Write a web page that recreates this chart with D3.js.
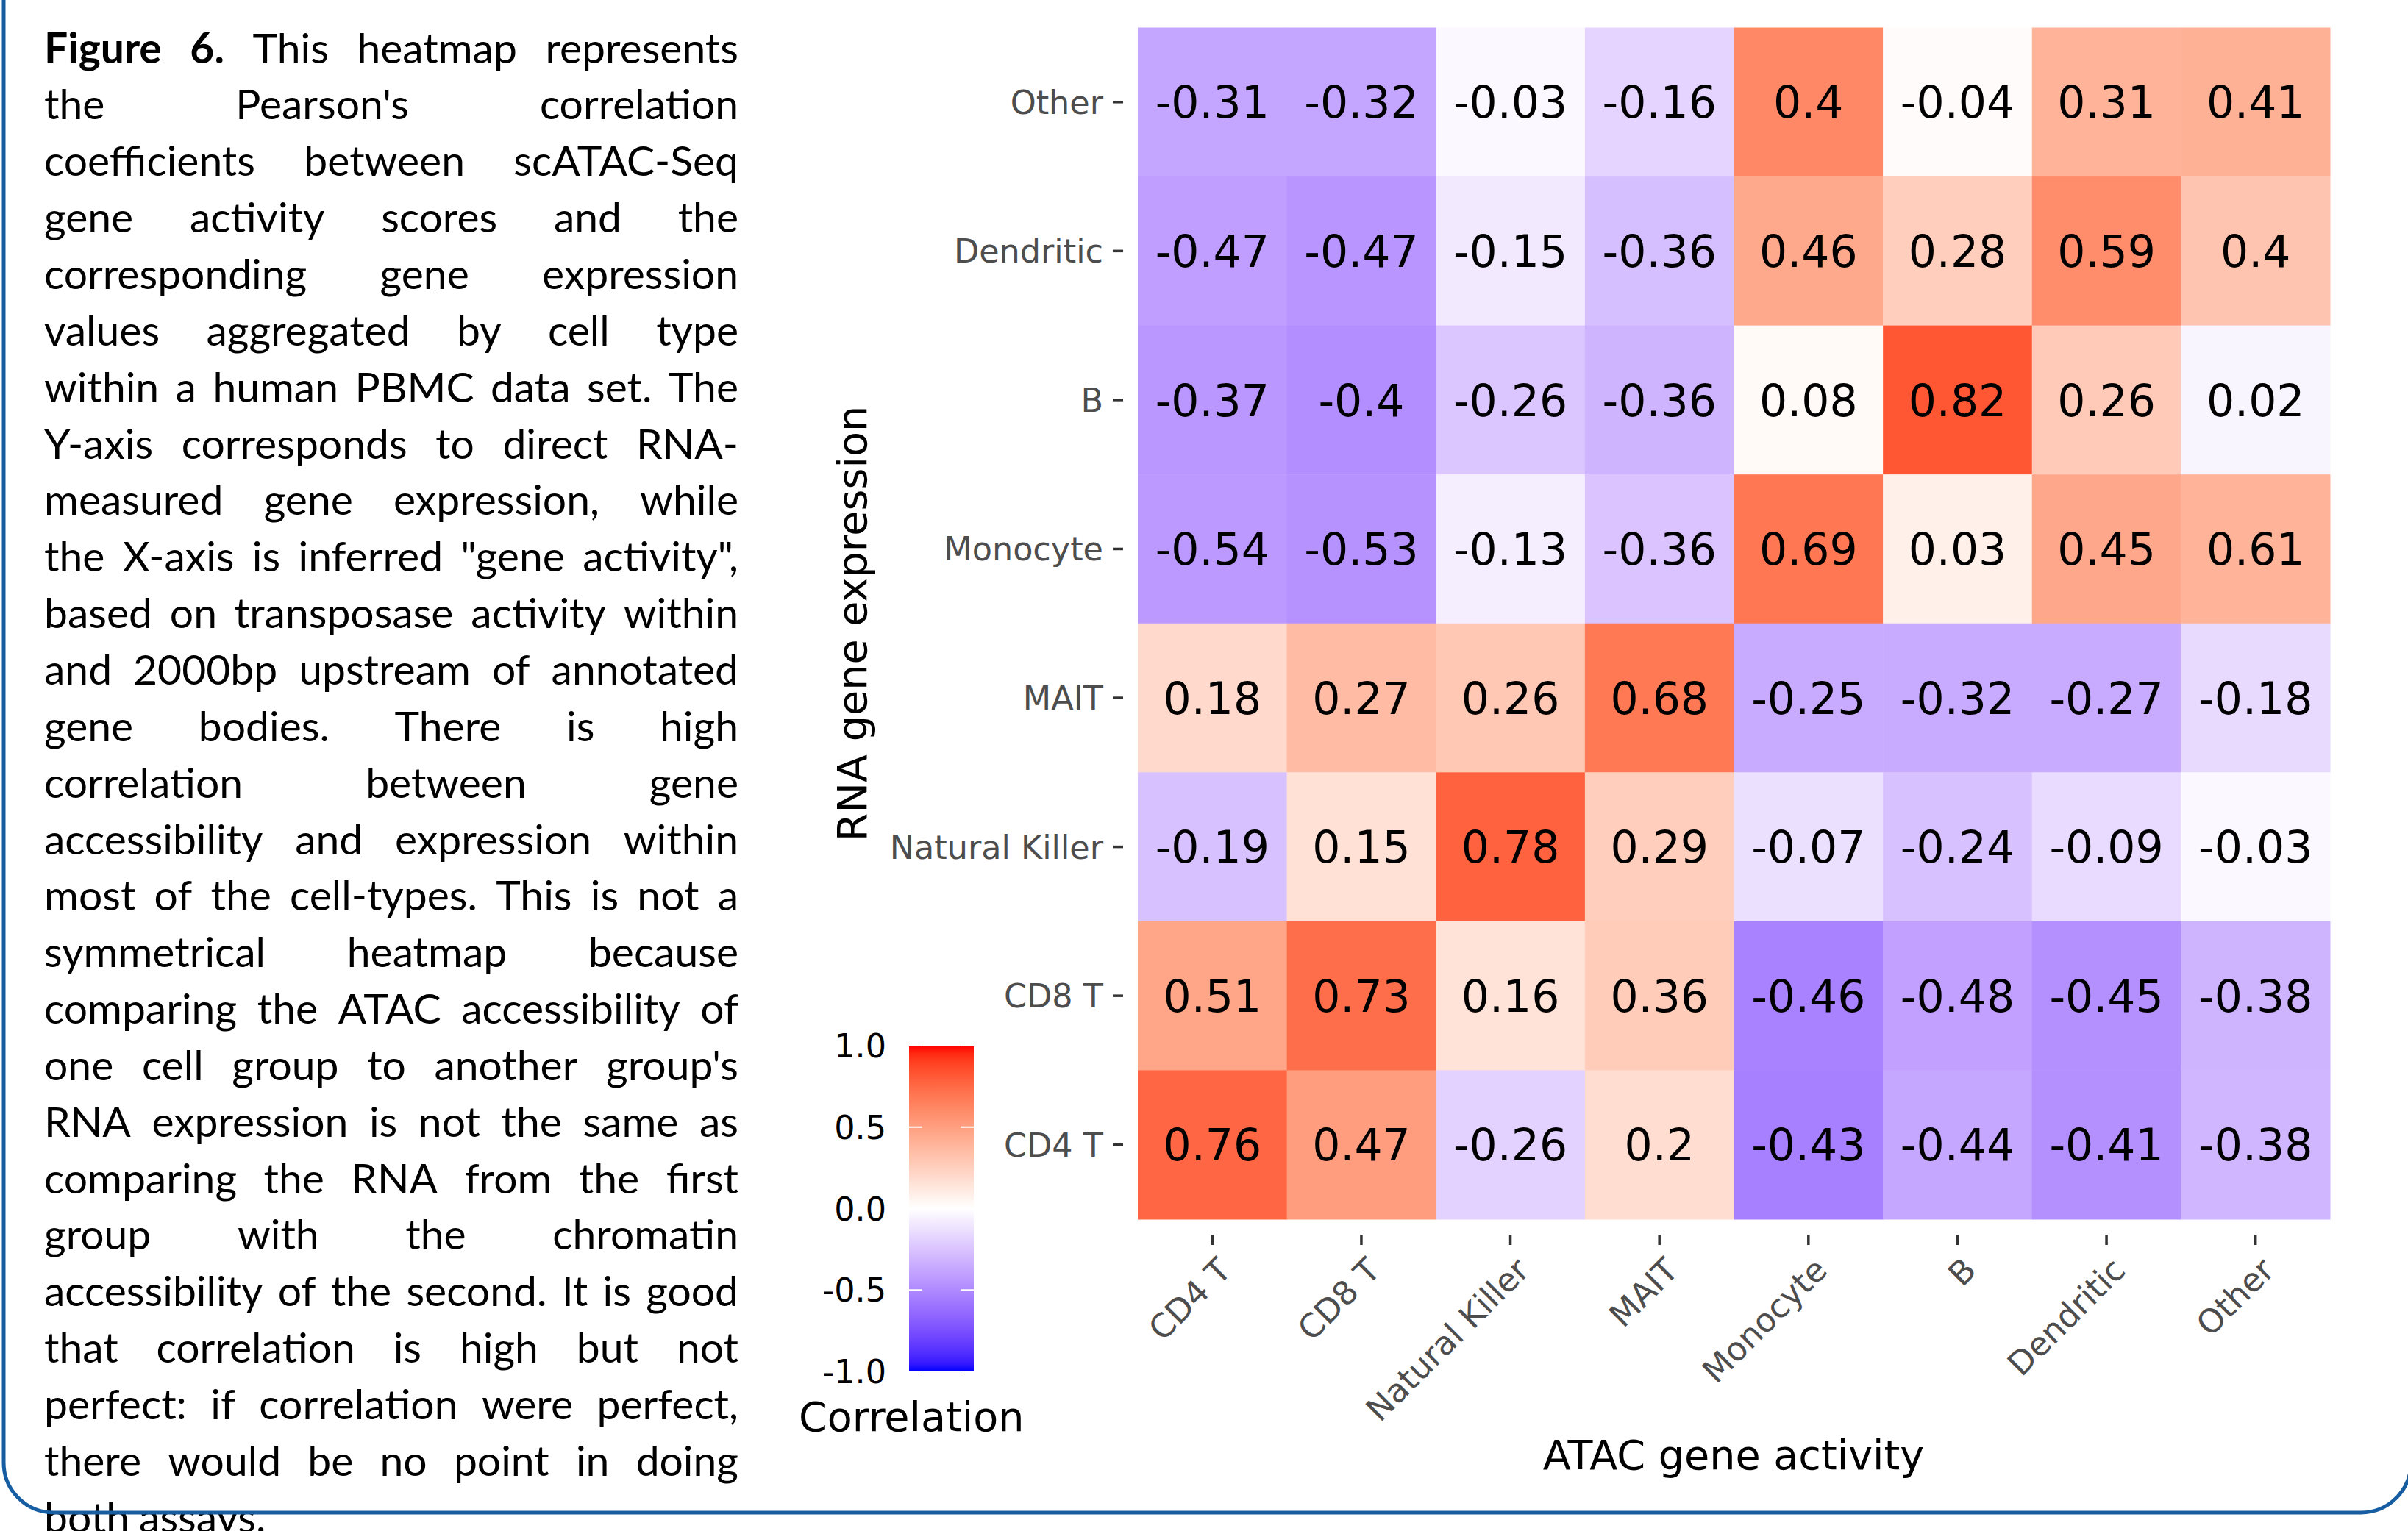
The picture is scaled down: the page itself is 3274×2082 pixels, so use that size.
<!DOCTYPE html>
<html><head><meta charset="utf-8">
<script src="https://cdn.jsdelivr.net/npm/d3@7"></script>
<style>html,body{margin:0;padding:0;background:#fff;} svg{display:block}</style>
</head><body>
<svg id="chart" width="3274" height="2082"></svg>
<script>
// ---------- DATA ----------
// ATAC gene activity (x axis), left to right
const atacCats = ["CD4 T", "CD8 T", "Natural Killer", "MAIT", "Monocyte", "B", "Dendritic", "Other"];
// RNA gene expression (y axis), top to bottom
const rnaCats = ["Other", "Dendritic", "B", "Monocyte", "MAIT", "Natural Killer", "CD8 T", "CD4 T"];
// printed correlation per RNA row (in ATAC column order)
const rnaOther         = [-0.31, -0.32, -0.03, -0.16,  0.40, -0.04,  0.31,  0.41];
const rnaDendritic     = [-0.47, -0.47, -0.15, -0.36,  0.46,  0.28,  0.59,  0.40];
const rnaB             = [-0.37, -0.40, -0.26, -0.36,  0.08,  0.82,  0.26,  0.02];
const rnaMonocyte      = [-0.54, -0.53, -0.13, -0.36,  0.69,  0.03,  0.45,  0.61];
const rnaMAIT          = [ 0.18,  0.27,  0.26,  0.68, -0.25, -0.32, -0.27, -0.18];
const rnaNaturalKiller = [-0.19,  0.15,  0.78,  0.29, -0.07, -0.24, -0.09, -0.03];
const rnaCD8T          = [ 0.51,  0.73,  0.16,  0.36, -0.46, -0.48, -0.45, -0.38];
const rnaCD4T          = [ 0.76,  0.47, -0.26,  0.20, -0.43, -0.44, -0.41, -0.38];
const rnaRows = [rnaOther, rnaDendritic, rnaB, rnaMonocyte, rnaMAIT, rnaNaturalKiller, rnaCD8T, rnaCD4T];

const legendBreaks = [-1, -0.5, 0, 0.5, 1];
const legendLabels = ["-1.0", "-0.5", "0.0", "0.5", "1.0"];

const captionLines = [
  "Figure 6. This heatmap represents",
  "the Pearson's correlation",
  "coefficients between scATAC-Seq",
  "gene activity scores and the",
  "corresponding gene expression",
  "values aggregated by cell type",
  "within a human PBMC data set. The",
  "Y-axis corresponds to direct RNA-",
  "measured gene expression, while",
  "the X-axis is inferred \"gene activity\",",
  "based on transposase activity within",
  "and 2000bp upstream of annotated",
  "gene bodies. There is high",
  "correlation between gene",
  "accessibility and expression within",
  "most of the cell-types. This is not a",
  "symmetrical heatmap because",
  "comparing the ATAC accessibility of",
  "one cell group to another group's",
  "RNA expression is not the same as",
  "comparing the RNA from the first",
  "group with the chromatin",
  "accessibility of the second. It is good",
  "that correlation is high but not",
  "perfect: if correlation were perfect,",
  "there would be no point in doing",
  "both assays."
];
const captionBoldWords = 2;

// ---------- DRAW ----------
const svg = d3.select("#chart");
svg.append("rect").attr("width", 3274).attr("height", 2082).attr("fill", "#fff");

const FONT = "'DejaVu Sans', Verdana, sans-serif";
const x = d3.scaleBand().domain(atacCats).range([1547, 3168]).padding(0);
const y = d3.scaleBand().domain(rnaCats).range([37.5, 1658]).padding(0);
const color = d3.scaleLinear().domain([-1, 0, 1])
  .range(["#0000ff", "#ffffff", "#ff0000"]).interpolate(d3.interpolateLab).clamp(true);

const cells = [];
rnaCats.forEach((r, ri) => {
  atacCats.forEach((c, ci) => {
    // fill is taken from the mirrored entry (as in the original figure)
    const fr = rnaCats.indexOf(c), fc = atacCats.indexOf(r);
    cells.push({ rna: r, atac: c, label: rnaRows[ri][ci], fillVal: rnaRows[fr][fc] });
  });
});

const heat = svg.append("g");
heat.selectAll("rect").data(cells).join("rect")
  .attr("x", d => x(d.atac)).attr("y", d => y(d.rna))
  .attr("width", x.bandwidth() + 0.5).attr("height", y.bandwidth() + 0.5)
  .attr("fill", d => color(d.fillVal));
heat.selectAll("text").data(cells).join("text")
  .attr("x", d => x(d.atac) + x.bandwidth() / 2)
  .attr("y", d => y(d.rna) + y.bandwidth() / 2)
  .attr("dy", "0.36em").attr("text-anchor", "middle")
  .attr("font-family", FONT).attr("font-size", 60).attr("fill", "#000")
  .text(d => String(d.label));

// y axis
const yAx = svg.append("g");
rnaCats.forEach(r => {
  const cy = y(r) + y.bandwidth() / 2;
  yAx.append("line").attr("x1", 1513).attr("x2", 1527).attr("y1", cy).attr("y2", cy)
    .attr("stroke", "#333").attr("stroke-width", 3.5);
  yAx.append("text").attr("x", 1500).attr("y", cy).attr("dy", "0.36em")
    .attr("text-anchor", "end").attr("font-family", FONT).attr("font-size", 44.5)
    .attr("fill", "#4d4d4d").text(r);
});
// x axis
const xAx = svg.append("g");
atacCats.forEach(c => {
  const cx = x(c) + x.bandwidth() / 2;
  xAx.append("line").attr("x1", cx).attr("x2", cx).attr("y1", 1679).attr("y2", 1693)
    .attr("stroke", "#333").attr("stroke-width", 3.5);
  xAx.append("text").attr("transform", `translate(${cx + 5},1707) rotate(-45)`)
    .attr("dy", "0.73em").attr("text-anchor", "end")
    .attr("font-family", FONT).attr("font-size", 44.5).attr("fill", "#4d4d4d").text(c);
});

// axis titles
svg.append("text").attr("x", 2357).attr("y", 1998).attr("text-anchor", "middle")
  .attr("font-family", FONT).attr("font-size", 55.6).attr("fill", "#000").text("ATAC gene activity");
svg.append("text").attr("transform", "translate(1178,848) rotate(-90)").attr("text-anchor", "middle")
  .attr("font-family", FONT).attr("font-size", 55.6).attr("fill", "#000").text("RNA gene expression");

// legend
const lg = svg.append("g");
const lx0 = 1236, lx1 = 1324;
const ly = d3.scaleLinear().domain([-1, 1]).range([1865, 1422]);
const grad = svg.append("defs").append("linearGradient").attr("id", "lgrad")
  .attr("x1", 0).attr("y1", 1).attr("x2", 0).attr("y2", 0);
d3.range(0, 41).forEach(i => {
  const t = i / 40;
  grad.append("stop").attr("offset", t).attr("stop-color", color(-1 + 2 * t));
});
lg.append("rect").attr("x", lx0).attr("y", ly(1)).attr("width", lx1 - lx0)
  .attr("height", ly(-1) - ly(1)).attr("fill", "url(#lgrad)");
const tl = (lx1 - lx0) * 0.2;
legendBreaks.forEach((b, i) => {
  const yy = ly(b);
  lg.append("line").attr("x1", lx0).attr("x2", lx0 + tl).attr("y1", yy).attr("y2", yy)
    .attr("stroke", "#fff").attr("stroke-width", 2);
  lg.append("line").attr("x1", lx1 - tl).attr("x2", lx1).attr("y1", yy).attr("y2", yy)
    .attr("stroke", "#fff").attr("stroke-width", 2);
  lg.append("text").attr("x", 1205).attr("y", yy).attr("dy", "0.36em").attr("text-anchor", "end")
    .attr("font-family", FONT).attr("font-size", 44.5).attr("fill", "#000").text(legendLabels[i]);
});
lg.append("text").attr("x", 1086).attr("y", 1946).attr("font-family", FONT)
  .attr("font-size", 55.6).attr("fill", "#000").text("Correlation");

// caption (justified)
const capG = svg.append("g");
const capLeft = 60, capRight = 1004, capTop = 85.6, capLead = 76.85, capSize = 57;
const CAPFONT = "Lato, 'Open Sans', 'Liberation Sans', sans-serif";
captionLines.forEach((line, i) => {
  const words = line.split(" ");
  const yy = capTop + i * capLead;
  const g = capG.append("g");
  const nodes = words.map((w, j) => g.append("text").attr("x", 0).attr("y", yy)
    .attr("font-family", CAPFONT).attr("font-size", capSize)
    .attr("font-weight", (i === 0 && j < captionBoldWords) ? 700 : 400)
    .attr("fill", "#000").text(w));
  const widths = nodes.map(n => n.node().getComputedTextLength());
  const sum = d3.sum(widths);
  const W = capRight - capLeft;
  const last = i === captionLines.length - 1;
  const minGap = capSize * 0.2;
  let s = 1;
  if (sum + minGap * (words.length - 1) > W) s = (W - minGap * (words.length - 1)) / sum;
  const gap = (!last && words.length > 1) ? (W - s * sum) / (words.length - 1) : capSize * 0.23;
  let xx = capLeft;
  nodes.forEach((n, j) => {
    n.attr("transform", `translate(${xx},0) scale(${s},1)`);
    xx += widths[j] * s + gap;
  });
});

// rounded frame
const bx0 = 5, bx1 = 3278, by1 = 2057, br = 68, btop = -60;
svg.append("path")
  .attr("d", `M${bx0},${btop} L${bx0},${by1 - br} A${br},${br} 0 0 0 ${bx0 + br},${by1} L${bx1 - br},${by1} A${br},${br} 0 0 0 ${bx1},${by1 - br} L${bx1},${btop}`)
  .attr("fill", "none").attr("stroke", "#175da1").attr("stroke-width", 5);
</script>
</body></html>
